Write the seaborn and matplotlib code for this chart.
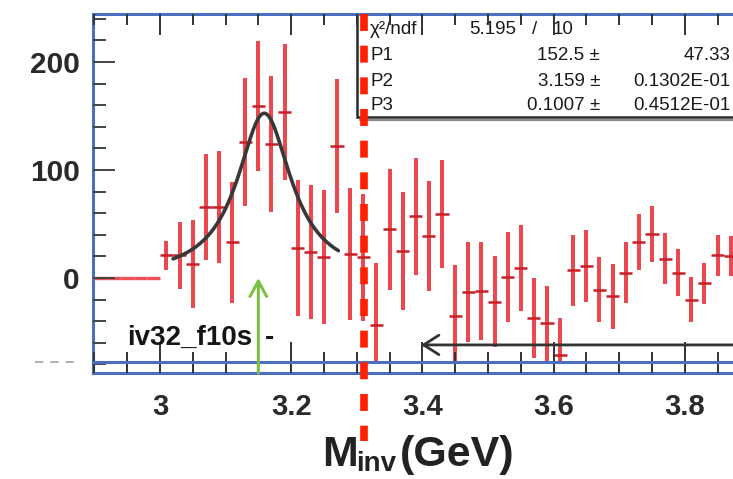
import numpy as np
import pandas as pd
import seaborn as sns
import matplotlib
matplotlib.use("Agg")
import matplotlib.pyplot as plt
from matplotlib.ticker import MultipleLocator, FuncFormatter
from matplotlib.transforms import Affine2D
from matplotlib.patches import Rectangle

# ---------------- data ----------------
mass = [3.01, 3.03, 3.05, 3.07, 3.09, 3.11, 3.13, 3.15, 3.17, 3.19,
        3.21, 3.23, 3.25, 3.27, 3.29, 3.31, 3.33, 3.35, 3.37, 3.39,
        3.41, 3.43, 3.45, 3.47, 3.49, 3.51, 3.53, 3.55, 3.57, 3.59,
        3.61, 3.63, 3.65, 3.67, 3.69, 3.71, 3.73, 3.75, 3.77, 3.79,
        3.81, 3.83, 3.85, 3.87]
counts = [21, 21, 13, 66, 66, 33, 126, 159, 124, 154,
          28, 24, 19, 122, 22, 19, -44, 45, 25, 57,
          39, 59, -35, -13, -12, -22, 1, 9, -37, -42,
          -71, 7, 11, -11, -17, 5, 33, 41, 18, 5,
          -20, -5, 21, 20]
errors = [13.5, 31, 41, 49, 52, 56, 59, 60, 63, 63,
          63, 62, 62, 62, 61, 59, 58, 56, 55, 54,
          51, 50, 47, 46, 45, 42, 42, 40, 37, 34.5,
          34, 33, 33, 30, 30, 28, 26, 26, 23.5, 22,
          21, 19, 19, 18.5]
empty_bins = [2.91, 2.93, 2.95, 2.97, 2.99]
empty_counts = [0, 0, 0, 0, 0]

# fit parameters (from the statistics box)
fit_p1, fit_p2, fit_p3 = 152.5, 3.159, 0.1007
fit_range = (3.02, 3.272)

stat_names = ["P1", "P2", "P3"]
stat_values = ["152.5", "3.159", "0.1007"]
stat_errors = ["47.33", "0.1302E-01", "0.4512E-01"]
chi2_value, ndf_value = "5.195", "10"

cut_mass = 3.3115          # red dashed line
marker_mass = 3.150        # green arrow
window_start = 3.398       # black arrow

df = pd.DataFrame({"mass": mass, "counts": counts, "err": errors})

# ---------------- style ----------------
sns.set_theme(style="white")
plt.rcParams["font.family"] = ["Liberation Sans", "DejaVu Sans"]
plt.rcParams["lines.scale_dashes"] = False

W, H = 733, 479
fig = plt.figure(figsize=(W / 100, H / 100), dpi=100)
pix = Affine2D().scale(1 / W, -1 / H).translate(0, 1) + fig.transFigure

ax = fig.add_axes([93 / W, 1 - 373 / H, 1 - 93 / W, (373 - 14) / H])
ax.set_xlim(2.898, 3.8735)
ax.set_ylim(-88, 244.4)

blue = "#4a6fc0"
for s in ["left", "top", "bottom"]:
    ax.spines[s].set_color(blue)
    ax.spines[s].set_linewidth(2.2)
ax.spines["right"].set_visible(False)
ax.axhline(-77.8, color=blue, lw=2.2, zorder=2.6)

# ticks
ax.xaxis.set_major_locator(MultipleLocator(0.2))
ax.xaxis.set_minor_locator(MultipleLocator(0.05))
ax.xaxis.set_major_formatter(FuncFormatter(lambda v, p: f"{v:g}"))
ax.yaxis.set_major_locator(MultipleLocator(100))
ax.yaxis.set_minor_locator(MultipleLocator(20))
ax.tick_params(axis="x", which="major", direction="in", length=22, width=1.4,
               color="#333333", bottom=True, top=False, labelsize=21, pad=14.5,
               labelcolor="#2a2a2a")
ax.tick_params(axis="x", which="minor", direction="in", length=15, width=1.4,
               color="#333333", bottom=True, top=False)
ax.tick_params(axis="y", which="major", direction="in", length=16, width=1.4,
               color="#444444", left=True, labelsize=21.5, pad=9.5,
               labelcolor="#2a2a2a")
ax.tick_params(axis="y", which="minor", direction="in", length=9.4, width=1.4,
               color="#444444", left=True)
for lab in ax.get_xticklabels() + ax.get_yticklabels():
    lab.set_fontweight("bold")
ax.set_axisbelow(False)

secax = ax.secondary_xaxis("top")
secax.xaxis.set_major_locator(MultipleLocator(0.2))
secax.xaxis.set_minor_locator(MultipleLocator(0.05))
secax.tick_params(axis="x", which="major", direction="in", length=15, width=1.4,
                  color="#333333", labeltop=False)
secax.tick_params(axis="x", which="minor", direction="in", length=8, width=1.4,
                  color="#333333")
for s in secax.spines.values():
    s.set_visible(False)
secax.set_zorder(5)

# ---------------- data marks ----------------
clip_rect = Rectangle((2.8, -77.8), 1.5, 400, transform=ax.transData)
eb_v = ax.errorbar(df["mass"], df["counts"], yerr=df["err"], fmt="none",
                   ecolor="#e8202a", elinewidth=2.9, alpha=0.82, zorder=2)
for c in eb_v.lines[2]:
    c.set_clip_path(clip_rect)
eb_h = ax.errorbar(df["mass"], df["counts"], xerr=0.01, fmt="none",
                   ecolor="#c81e26", elinewidth=1.8, zorder=2.1)
ax.errorbar(empty_bins, empty_counts, xerr=0.01, fmt="none",
            ecolor="#ee5056", elinewidth=2.4, zorder=2.1)

# fit curve
xf = np.linspace(fit_range[0], fit_range[1], 300)
half = fit_p3 / 2
yf = fit_p1 * half ** 2 / ((xf - fit_p2) ** 2 + half ** 2)
sns.lineplot(x=xf, y=yf, ax=ax, color="#383838", lw=2.6, zorder=3)

# red dashed cut line
ax.plot([cut_mass, cut_mass], [244.4, -151], color="#ff2000", lw=5.5,
        dashes=(12.2, 10.6), dash_capstyle="butt", clip_on=False, zorder=7)

# green arrow
ax.annotate("", xy=(marker_mass, 0), xytext=(marker_mass, -88),
            arrowprops=dict(arrowstyle="->,head_length=0.55,head_width=0.3",
                            color="#7bc043", lw=2.2, mutation_scale=20,
                            shrinkA=0, shrinkB=0), zorder=3)
# black arrow
ax.annotate("", xy=(window_start, -62), xytext=(3.95, -62),
            arrowprops=dict(arrowstyle="->,head_length=0.55,head_width=0.35",
                            color="#333333", lw=2.0, mutation_scale=20,
                            shrinkA=0, shrinkB=0), zorder=3)

# label text
ax.text(127, 345, "iv32_f10s", transform=pix, fontsize=20, fontweight="bold",
        color="#151515", va="baseline", ha="left", clip_on=False)
ax.text(265, 345, "-", transform=pix, fontsize=20, fontweight="bold",
        color="#151515", va="baseline", ha="left", clip_on=False)

# left gray dashes
ax.plot([35, 77], [362, 362], transform=pix, color="#aaaaaa", lw=1.3,
        dashes=(6, 5), clip_on=False)

# ---------------- statistics box ----------------
ax.add_patch(Rectangle((357, 14), 400, 103, transform=pix, facecolor="white",
                       edgecolor="#2a2a2a", lw=1.8, clip_on=False, zorder=1.5))
ax.plot([360, 740], [120, 120], transform=pix, color="#8a8a8a", lw=1.6,
        clip_on=False, zorder=1.5)
tk = dict(transform=pix, fontsize=13.5, color="#1a1a1a", va="center",
          clip_on=False, zorder=5)
ax.text(370, 29, "χ²/ndf", ha="left", **tk)
ax.text(516, 29, chi2_value, ha="right", **tk)
ax.text(535, 29, "/", ha="center", **tk)
ax.text(553, 29, ndf_value, ha="left", **tk)
rows_y = [55, 81, 106]
for yy, name, val, err in zip(rows_y, stat_names, stat_values, stat_errors):
    ax.text(370, yy, name, ha="left", **tk)
    ax.text(600, yy, val + " ±", ha="right", **tk)
    ax.text(730, yy, err, ha="right", **tk)

# ---------------- x axis title ----------------
fig.text(322, 466, "M", transform=pix, fontsize=31, fontweight="bold",
         color="#222222", va="baseline", ha="left")
fig.text(356, 471, "inv", transform=pix, fontsize=20, fontweight="bold",
         color="#222222", va="baseline", ha="left")
fig.text(400, 466, "(GeV)", transform=pix, fontsize=31, fontweight="bold",
         color="#222222", va="baseline", ha="left")

fig.savefig("out.png", dpi=100)
